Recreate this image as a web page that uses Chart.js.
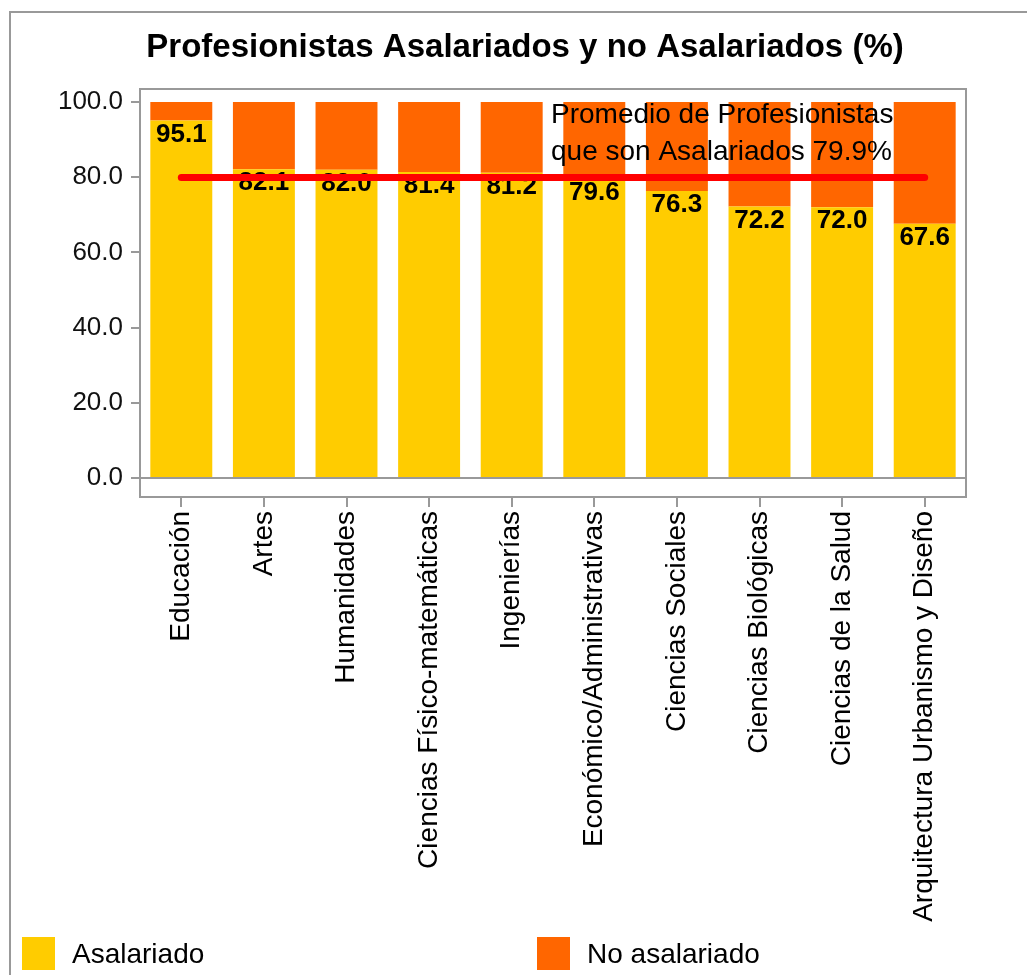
<!DOCTYPE html>
<html>
<head>
<meta charset="utf-8">
<script src="https://cdn.jsdelivr.net/npm/chart.js@4/dist/chart.umd.min.js"></script>
<style>
  html, body { margin: 0; padding: 0; background: #fff; }
  canvas { display: block; }
</style>
</head>
<body>
<canvas id="c" width="1027" height="975"></canvas>
<script>
const categories = ['Educación', 'Artes', 'Humanidades', 'Ciencias Físico-matemáticas', 'Ingenierías',
  'Económico/Administrativas', 'Ciencias Sociales', 'Ciencias Biológicas', 'Ciencias de la Salud',
  'Arquitectura Urbanismo y Diseño'];
const asalariado = [95.1, 82.1, 82.0, 81.4, 81.2, 79.6, 76.3, 72.2, 72.0, 67.6];
const noAsalariado = [4.9, 17.9, 18.0, 18.6, 18.8, 20.4, 23.7, 27.8, 28.0, 32.4];
const promedio = [79.9, 79.9, 79.9, 79.9, 79.9, 79.9, 79.9, 79.9, 79.9, 79.9];
const yTicks = [0, 20, 40, 60, 80, 100];
const titleText = 'Profesionistas Asalariados y no Asalariados (%)';
const promedioTexto = ['Promedio de Profesionistas', 'que son Asalariados 79.9%'];

const FONT = '"Liberation Sans", Arial, sans-serif';
const YELLOW = '#FFCC00';
const ORANGE = '#FF6600';
const GRAY = '#999999';

const framePlugin = {
  id: 'frame',
  beforeDraw(chart) {
    const ctx = chart.ctx;
    ctx.save();
    ctx.fillStyle = '#ffffff';
    ctx.fillRect(0, 0, chart.width, chart.height);
    ctx.strokeStyle = GRAY;
    ctx.lineWidth = 2;
    ctx.beginPath();
    ctx.moveTo(10, chart.height + 5);
    ctx.lineTo(10, 12);
    ctx.lineTo(chart.width + 5, 12);
    ctx.stroke();
    ctx.restore();
  },
  beforeDatasetsDraw(chart) {
    const ctx = chart.ctx, a = chart.chartArea;
    ctx.save();
    ctx.strokeStyle = GRAY;
    ctx.lineWidth = 2;
    ctx.strokeRect(a.left, a.top, a.right - a.left, a.bottom - a.top);
    ctx.restore();
  },
  afterDatasetDraw(chart, args) {
    if (args.index !== 0) return;
    const ctx = chart.ctx;
    const meta = chart.getDatasetMeta(0);
    ctx.save();
    ctx.font = 'bold 26px ' + FONT;
    ctx.fillStyle = '#000';
    ctx.textAlign = 'center';
    ctx.textBaseline = 'middle';
    meta.data.forEach((bar, i) => {
      ctx.fillText(asalariado[i].toFixed(1), bar.x, bar.y + 14);
    });
    ctx.restore();
  },
  afterDraw(chart) {
    const ctx = chart.ctx;
    ctx.save();
    ctx.font = '28px ' + FONT;
    ctx.fillStyle = '#000';
    ctx.textAlign = 'left';
    ctx.textBaseline = 'middle';
    ctx.fillText(promedioTexto[0], 551, 115);
    ctx.fillText(promedioTexto[1], 551, 152);
    const items = chart.data.datasets.filter(d => d.type !== 'line');
    const xs = [22, 537];
    items.forEach((d, i) => {
      ctx.fillStyle = d.backgroundColor;
      ctx.fillRect(xs[i], 937, 33, 33);
      ctx.fillStyle = '#000';
      ctx.fillText(d.label, xs[i] + 50, 955);
    });
    ctx.restore();
  }
};

new Chart(document.getElementById('c'), {
  data: {
    labels: categories,
    datasets: [
      { type: 'bar', label: 'Asalariado', data: asalariado, backgroundColor: YELLOW,
        borderWidth: 0, barPercentage: 0.75, categoryPercentage: 1, order: 1, stack: 'bars' },
      { type: 'bar', label: 'No asalariado', data: noAsalariado, backgroundColor: ORANGE,
        borderWidth: 0, barPercentage: 0.75, categoryPercentage: 1, order: 1, stack: 'bars' },
      { type: 'line', label: 'Promedio', data: promedio, borderColor: '#FF0000', borderWidth: 7,
        pointRadius: 0, borderCapStyle: 'round', fill: false, order: 0, stack: 'avg' }
    ]
  },
  options: {
    responsive: false,
    animation: false,
    devicePixelRatio: 1,
    layout: { padding: { left: 23, right: 0, top: 0, bottom: 0 } },
    plugins: {
      legend: { display: false },
      tooltip: { enabled: false },
      title: {
        display: true, text: titleText, color: '#000',
        font: { family: FONT, size: 33, weight: 'bold' },
        padding: { top: 28, bottom: 21.4 }
      }
    },
    scales: {
      x: {
        stacked: true,
        border: { display: false },
        grid: { drawOnChartArea: false, offset: false, tickLength: 10, tickColor: GRAY, lineWidth: 2 },
        ticks: {
          autoSkip: false, minRotation: 90, maxRotation: 90, padding: 4, color: '#000',
          font: { family: FONT, size: 28 }
        },
        afterFit(scale) { scale.height = 478; }
      },
      y: {
        stacked: true,
        min: -5.05, max: 103.46,
        border: { display: false },
        grid: {
          color: (c) => (c.tick && c.tick.value === 0 ? GRAY : 'rgba(0,0,0,0)'),
          tickColor: GRAY, tickLength: 9, lineWidth: 2
        },
        ticks: {
          padding: 8, color: '#111',
          font: { family: FONT, size: 26 },
          callback: (v) => Number(v).toFixed(1)
        },
        afterBuildTicks(scale) { scale.ticks = yTicks.map(v => ({ value: v })); },
        afterFit(scale) { scale.width = 117; }
      },
      yRight: {
        position: 'right',
        display: true,
        border: { display: false },
        grid: { display: false, drawTicks: false },
        ticks: { display: false },
        afterFit(scale) { scale.width = 61; }
      }
    }
  },
  plugins: [framePlugin]
});
</script>
</body>
</html>
